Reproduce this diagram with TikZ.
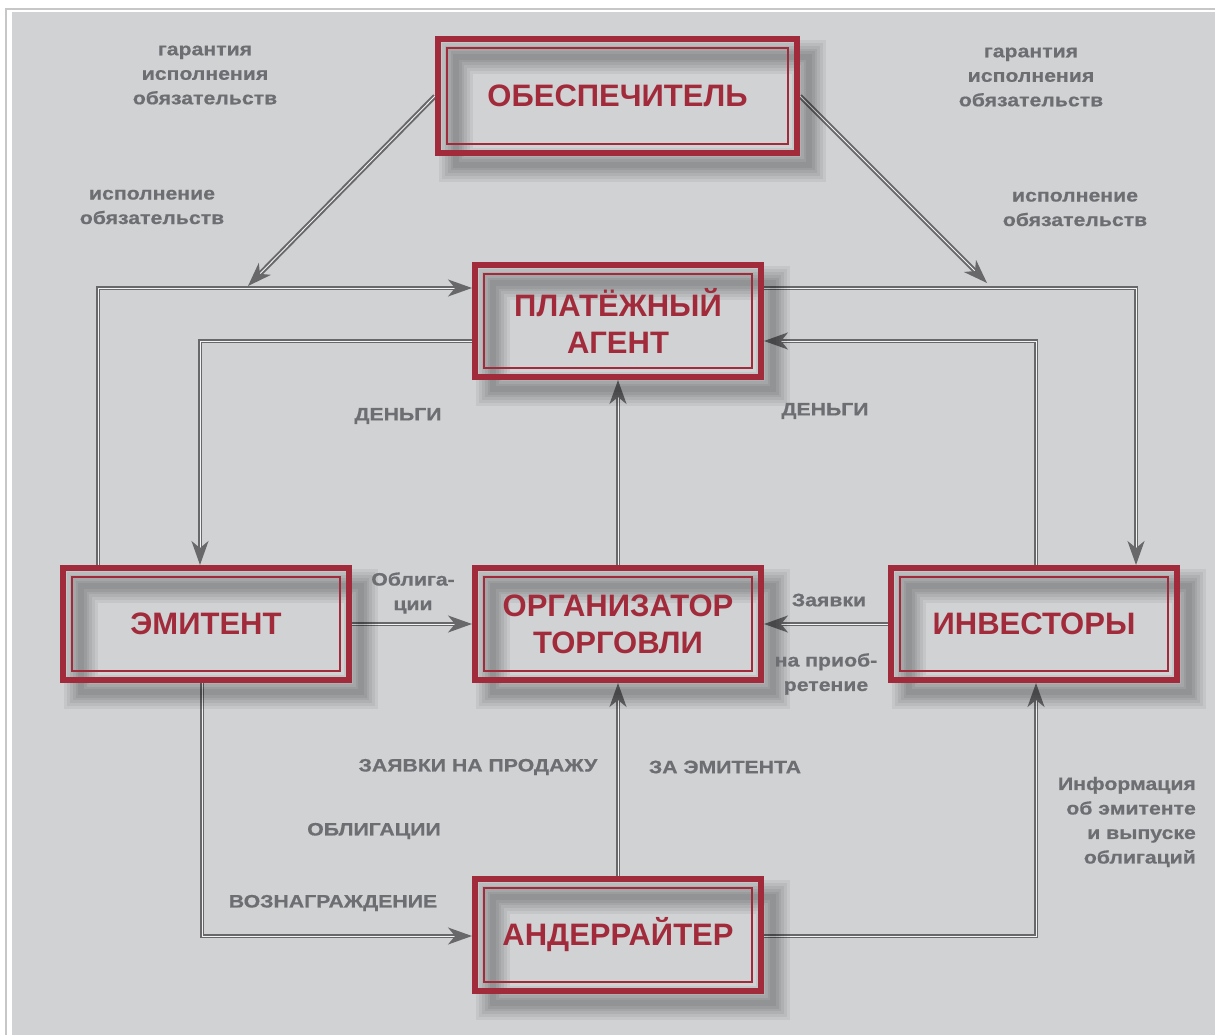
\documentclass[tikz,border=0pt]{standalone}
\usepackage{fontspec}
\setmainfont{Liberation Sans}
\newfontfamily\lblfont[FakeStretch=1.18,FakeBold=0.6]{Liberation Sans}
\usetikzlibrary{arrows.meta,calc}
\pgfdeclarelayer{bg}\pgfdeclarelayer{conn}\pgfdeclarelayer{shad}
\pgfsetlayers{bg,conn,shad,main}
\definecolor{panel}{HTML}{D1D2D4}
\definecolor{frame}{HTML}{A22B3B}
\definecolor{ink}{HTML}{6D6E71}
\tikzset{
  box/.style={draw=frame, line width=6pt, minimum width=286pt, minimum height=112pt,
    inner sep=0pt, align=center, text=frame, font=\fontsize{31}{37}\selectfont\bfseries,
    path picture={\draw[frame, line width=1.5pt]
      ([shift={(9pt,-9pt)}]path picture bounding box.north west) rectangle
      ([shift={(-9pt,9pt)}]path picture bounding box.south east);}},
  conn/.style={draw=ink!95!black, line width=2pt, double=white!75!panel, double distance=0.9pt,
    -{Stealth[length=24pt,width=17pt,inset=7pt]}},
  lbl/.style={text=ink, font=\lblfont\fontsize{18}{24.5}\selectfont\bfseries, align=center, inner sep=0pt},
}
\begin{document}
\begin{tikzpicture}[x=1pt,y=-1pt]
\useasboundingbox (0,0) rectangle (1215,1035);
\begin{pgfonlayer}{bg}
  \fill[white] (0,0) rectangle (1215,1035);
  \draw[black!22, line width=1.5pt] (6,9) rectangle (1230,1050);
  \fill[panel] (12,12) rectangle (1215,1035);
\end{pgfonlayer}

\node[box, minimum width=359pt, minimum height=114pt] (obes) at (617.5,96) {ОБЕСПЕЧИТЕЛЬ};
\node[box] (plat) at (618,321) {ПЛАТЁЖНЫЙ\\АГЕНТ};
\node[box] (emit) at (206,624) {ЭМИТЕНТ};
\node[box] (org) at (618,624) {ОРГАНИЗАТОР\\ТОРГОВЛИ};
\node[box] (inv) at (1034,624) {ИНВЕСТОРЫ};
\node[box] (und) at (618,935) {АНДЕРРАЙТЕР};

\begin{pgfonlayer}{shad}
  \foreach \n in {obes,plat,emit,org,inv,und}{
    \foreach \w in {34,28,22,16,11,6}{
      \draw[black, opacity=0.055, line width=\w pt]
        ($(\n.north west)+(21pt,-21pt)$) rectangle ($(\n.south east)+(9pt,-9pt)$);
    }
  }
\end{pgfonlayer}

\coordinate (D1) at (248,286);
\coordinate (D2) at (987,283);
\coordinate (L1) at (98,288);
\coordinate (L2) at (200,341);
\coordinate (R1) at (1136,288);
\coordinate (R2) at (1036,341);
\coordinate (B1) at (202,936);
\coordinate (B2) at (1036,936);

\begin{pgfonlayer}{conn}
  \draw[conn] (obes.west) -- (D1);
  \draw[conn] (obes.east) -- (D2);
  \draw[conn] (emit.north -| L1) -- (L1) -- (L1 -| plat.west);
  \draw[conn] (plat.west |- L2) -- (L2) -- (L2 |- emit.north);
  \draw[conn] (plat.east |- R1) -- (R1) -- (R1 |- inv.north);
  \draw[conn] (inv.north -| R2) -- (R2) -- (R2 -| plat.east);
  \draw[conn] (org.north) -- (plat.south);
  \draw[conn] (emit.east) -- (org.west);
  \draw[conn] (inv.west) -- (org.east);
  \draw[conn] (emit.south -| B1) -- (B1) -- (B1 -| und.west);
  \draw[conn] (und.north) -- (org.south);
  \draw[conn] (und.east |- B2) -- (B2) -- (B2 |- inv.south);
\end{pgfonlayer}

\node[lbl] (t1) at (205,75) {гарантия\\исполнения\\обязательств};
\node[lbl] (t2) at (1031,77) {гарантия\\исполнения\\обязательств};
\node[lbl] (t3) at (152,207) {исполнение\\обязательств};
\node[lbl] (t4) at (1075,209) {исполнение\\обязательств};
\node[lbl] (t5) at (398,416) {ДЕНЬГИ};
\node[lbl] (t6) at (825,411) {ДЕНЬГИ};
\node[lbl] (t7) at (413,593) {Облига-\\ции};
\node[lbl] (t8) at (829,600) {Заявки};
\node[lbl] (t9) at (826,674) {на приоб-\\ретение};
\node[lbl] (t10) at (478,767) {ЗАЯВКИ НА ПРОДАЖУ};
\node[lbl] (t11) at (725,767) {ЗА ЭМИТЕНТА};
\node[lbl] (t12) at (374,831) {ОБЛИГАЦИИ};
\node[lbl] (t13) at (333,903) {ВОЗНАГРАЖДЕНИЕ};
\node[lbl, align=right, anchor=east] (t14) at (1196,822) {Информация\\об эмитенте\\и выпуске\\облигаций};
\end{tikzpicture}
\end{document}
